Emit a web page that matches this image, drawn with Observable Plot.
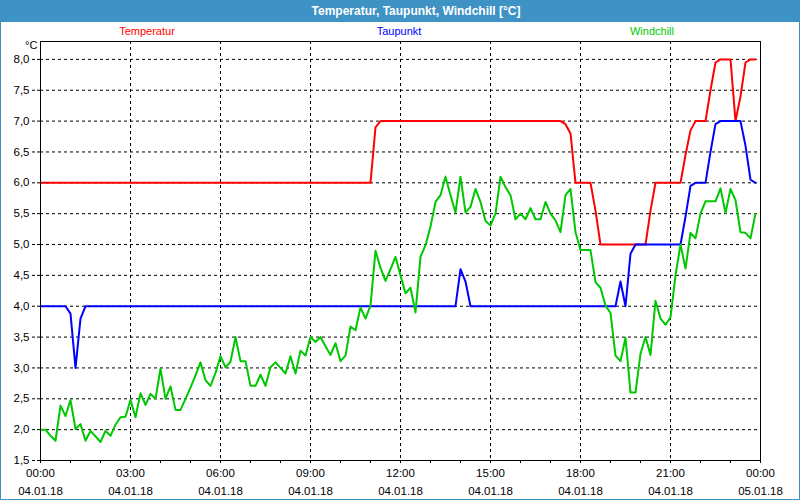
<!DOCTYPE html>
<html><head><meta charset="utf-8">
<script src="https://cdn.jsdelivr.net/npm/d3@7"></script>
<script src="https://cdn.jsdelivr.net/npm/@observablehq/plot@0.6"></script>
<style>
html,body{margin:0;padding:0;background:#fff;}
#wrap{position:relative;width:800px;height:500px;overflow:hidden;font-family:"Liberation Sans",sans-serif;background:#fff;}
#bar{position:absolute;left:0;top:0;width:800px;height:22px;background:#3e92c4;color:#fff;font-weight:bold;font-size:12px;text-align:center;line-height:22px;box-sizing:border-box;padding-left:32px;}
#chart{position:absolute;left:0;top:22px;}
.leg{position:absolute;top:25px;font-size:11px;line-height:13px;transform:translateX(-50%);white-space:nowrap;}
#unit{position:absolute;left:25px;top:39px;font-size:11px;line-height:13px;color:#000;}
#border{position:absolute;left:0;top:0;width:800px;height:500px;border:1px solid #3e92c4;box-sizing:border-box;pointer-events:none;}
</style>
</head><body>
<div id="wrap">
  <div id="bar">Temperatur, Taupunkt, Windchill [°C]</div>
  <div id="chart"></div>
  <div class="leg" style="left:147px;color:#ff0000">Temperatur</div>
  <div class="leg" style="left:399px;color:#0000ff">Taupunkt</div>
  <div class="leg" style="left:652px;color:#00c800">Windchill</div>
  <div id="unit">°C</div>
  <div id="border"></div>
</div>
<script>
// 10-minute samples, 04.01.18 00:00 – 23:50 (144 per series)
const temperatur = [
  6,6,6,6,6,6,6,6,6,6,6,6,
  6,6,6,6,6,6,6,6,6,6,6,6,
  6,6,6,6,6,6,6,6,6,6,6,6,
  6,6,6,6,6,6,6,6,6,6,6,6,
  6,6,6,6,6,6,6,6,6,6,6,6,
  6,6,6,6,6,6,6,6.9,7,7,7,7,
  7,7,7,7,7,7,7,7,7,7,7,7,
  7,7,7,7,7,7,7,7,7,7,7,7,
  7,7,7,7,7,7,7,7,7,6.95,6.8,6,
  6,6,6,5.55,5,5,5,5,5,5,5,5,
  5,5,5.55,6,6,6,6,6,6,6.45,6.85,7,
  7,7,7.5,7.95,8,8,8,7,7.4,7.95,8,8
];
const taupunkt = [
  4,4,4,4,4,4,3.88,3,3.8,4,4,4,
  4,4,4,4,4,4,4,4,4,4,4,4,
  4,4,4,4,4,4,4,4,4,4,4,4,
  4,4,4,4,4,4,4,4,4,4,4,4,
  4,4,4,4,4,4,4,4,4,4,4,4,
  4,4,4,4,4,4,4,4,4,4,4,4,
  4,4,4,4,4,4,4,4,4,4,4,4,
  4.6,4.4,4,4,4,4,4,4,4,4,4,4,
  4,4,4,4,4,4,4,4,4,4,4,4,
  4,4,4,4,4,4,4,4,4.4,4,4.85,5,
  5,5,5,5,5,5,5,5,5,5.45,5.95,6,
  6,6,6.5,6.95,7,7,7,7,7,6.6,6.05,6
];
const windchill = [
  2.0,2.0,1.9,1.82,2.39,2.22,2.48,2.01,2.09,1.82,1.98,1.89,
  1.8,1.98,1.9,2.08,2.2,2.21,2.48,2.2,2.59,2.4,2.58,2.5,
  2.99,2.5,2.7,2.32,2.32,2.5,2.68,2.88,3.09,2.8,2.71,2.92,
  3.19,3.01,3.1,3.5,3.11,3.11,2.71,2.71,2.89,2.71,3.01,3.09,
  3.0,2.91,3.19,2.91,3.28,3.2,3.5,3.42,3.5,3.35,3.21,3.4,
  3.11,3.2,3.67,3.61,3.98,3.8,4.01,4.9,4.62,4.41,4.6,4.8,
  4.5,4.21,4.3,3.9,4.8,4.99,5.29,5.69,5.8,6.1,5.8,5.52,
  6.1,5.52,5.61,5.9,5.69,5.38,5.31,5.5,6.1,5.93,5.8,5.41,
  5.5,5.41,5.59,5.41,5.41,5.69,5.5,5.39,5.2,5.8,5.9,5.2,
  4.91,4.91,4.91,4.39,4.3,4.01,3.89,3.2,3.11,3.49,2.6,2.6,
  3.23,3.5,3.21,4.09,3.8,3.7,3.82,4.5,5.0,4.61,5.19,5.1,
  5.5,5.7,5.7,5.7,5.91,5.51,5.9,5.72,5.2,5.19,5.1,5.5
];
const yTicks = [1.5,2,2.5,3,3.5,4,4.5,5,5.5,6,6.5,7,7.5,8];
const startDate = new Date(Date.UTC(2018,0,4,0,0));
const endDate = new Date(Date.UTC(2018,0,5,0,0));
const times = windchill.map((_, i) => new Date(startDate.getTime() + i * 600000));
const xTicks = d3.utcHour.every(3).range(startDate, new Date(endDate.getTime() + 1));
const xMinor = d3.utcHour.every(1).range(startDate, new Date(endDate.getTime() + 1));

const rows = times.map((t, i) => ({t, temp: temperatur[i], tau: taupunkt[i], wind: windchill[i]}));
const fmtT = d3.utcFormat("%H:%M"), fmtD = d3.utcFormat("%d.%m.%y");

const chart = Plot.plot({
  width: 800, height: 478,
  marginLeft: 40, marginRight: 40, marginTop: 19, marginBottom: 40,
  style: {fontFamily: "Liberation Sans, sans-serif", fontSize: "11.5px", color: "#000", background: "transparent", overflow: "visible"},
  x: {type: "utc", domain: [startDate, endDate]},
  y: {domain: [1.5, 8.29]},
  marks: [
    Plot.gridY(yTicks, {stroke: "#000", strokeOpacity: 1, strokeDasharray: "3,3"}),
    Plot.gridX(xTicks, {stroke: "#000", strokeOpacity: 1, strokeDasharray: "3,3"}),
    Plot.axisY(yTicks, {tickSize: 8, tickPadding: 3, strokeDasharray: "3,2", tickFormat: d => d.toFixed(1).replace(".", ","), label: null}),
    Plot.axisX(xMinor, {tickSize: 3, tickFormat: () => "", label: null}),
    Plot.axisX(xTicks, {tickSize: 3, tickPadding: 1, lineHeight: 1.55, tickFormat: d => fmtT(d) + "\n" + fmtD(d), label: null}),
    Plot.line(rows, {x: "t", y: "temp", stroke: "#ff0000", strokeWidth: 2}),
    Plot.line(rows, {x: "t", y: "tau", stroke: "#0000ff", strokeWidth: 2}),
    Plot.line(rows, {x: "t", y: "wind", stroke: "#00c800", strokeWidth: 2}),
    Plot.frame({stroke: "#000"})
  ]
});
document.getElementById("chart").appendChild(chart);
</script>
</body></html>
